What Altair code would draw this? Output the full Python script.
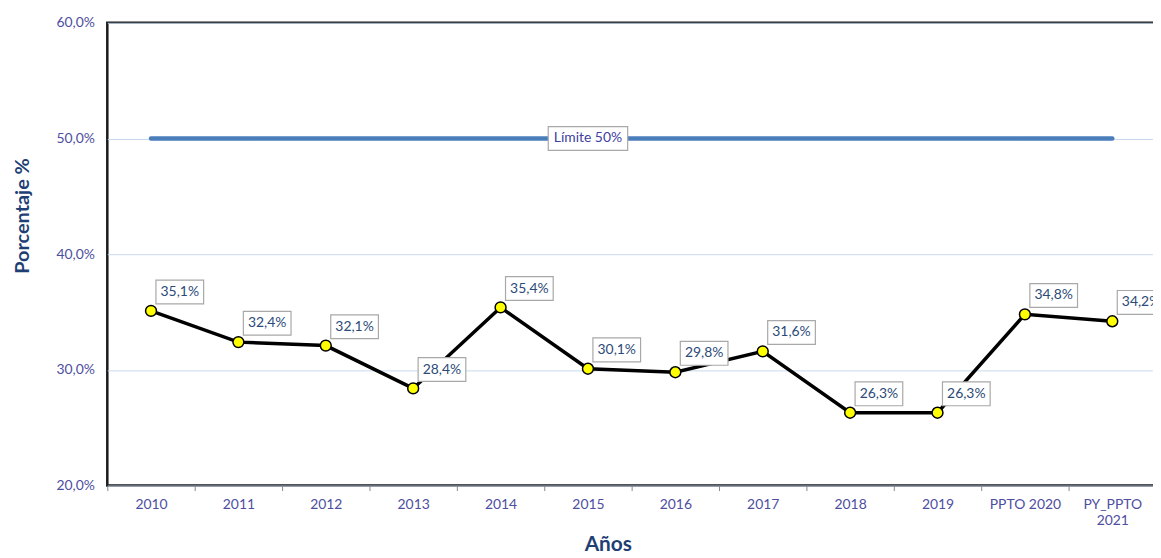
import altair as alt
import pandas as pd

categories = ["2010", "2011", "2012", "2013", "2014", "2015", "2016", "2017",
              "2018", "2019", "PPTO 2020", "PY_PPTO 2021"]
values = [35.1, 32.4, 32.1, 28.4, 35.4, 30.1, 29.8, 31.6, 26.3, 26.3, 34.8, 34.2]
labels = ["35,1%", "32,4%", "32,1%", "28,4%", "35,4%", "30,1%", "29,8%", "31,6%",
          "26,3%", "26,3%", "34,8%", "34,2%"]
limit_value = 50
limit_label = "Límite 50%"
limit_label_at = "2015"
y_ticks = [20, 30, 40, 50, 60]

FONT = "Lato"
df = pd.DataFrame({"cat": categories, "val": values, "lab": labels})
df_limit = pd.DataFrame({"cat": [categories[0], categories[-1]], "val": [limit_value] * 2})
df_limit_lab = pd.DataFrame({"cat": [limit_label_at], "val": [limit_value], "lab": [limit_label]})

x_enc = alt.X("cat:N", sort=categories,
              scale=alt.Scale(paddingInner=0, paddingOuter=0),
              axis=alt.Axis(title="Años", titleFont=FONT, titleFontSize=21, titleFontWeight="bold",
                            titleColor="#1F3F74", titleX=504, titleY=59, titleBaseline="middle",
                            titleAnchor="start", titleAlign="center",
                            labelFont=FONT, labelFontSize=14, labelColor="#4E4EA0",
                            labelPadding=7, labelAngle=0, labelLineHeight=16,
                            labelExpr="datum.value == 'PY_PPTO 2021' ? ['PY_PPTO', '2021'] : datum.label",
                            tickBand="extent", tickSize=5, tickColor="#888888", tickWidth=1,
                            domain=False, grid=False))
y_enc = alt.Y("val:Q", scale=alt.Scale(domain=[20, 60], nice=False, zero=False),
              axis=alt.Axis(title="Porcentaje %", titleFont=FONT, titleFontSize=20, titleFontWeight="bold",
                            titleColor="#1F3F74", titleX=-85, titleY=194, titleBaseline="middle",
                            titleAngle=270,
                            values=y_ticks,
                            labelExpr="replace(format(datum.value, '.1f'), '.', ',') + '%'",
                            labelFont=FONT, labelFontSize=14, labelColor="#4E4EA0", labelPadding=13,
                            ticks=False, domain=False, grid=True, gridColor="#C9DAEE", gridWidth=1))

base = alt.Chart(df)

limit_line = alt.Chart(df_limit).mark_line(color="#4A7EBB", strokeWidth=4.5, strokeCap="round").encode(
    x=x_enc, y=y_enc)

main_line = base.mark_line(color="#000000", strokeWidth=3.5).encode(x=x_enc, y=y_enc)

points = base.mark_point(filled=True, fill="#FFFF00", stroke="#000000", strokeWidth=1.5,
                         size=120, opacity=1).encode(x=x_enc, y=y_enc)

DX, DY = 29, -19
boxes = base.mark_point(shape="M-1,-0.5H1V0.5H-1Z", size=2304, filled=False, fill="#FFFFFF",
                        fillOpacity=1, stroke="#A8A8A8", strokeWidth=1.2, opacity=1,
                        xOffset=DX, yOffset=DY).encode(x=x_enc, y=y_enc)
texts = base.mark_text(font=FONT, fontSize=14, color="#2C4A78", dx=DX, dy=DY,
                       align="center", baseline="middle").encode(x=x_enc, y=y_enc, text="lab:N")

lim_box = alt.Chart(df_limit_lab).mark_point(shape="M-1,-0.3H1V0.3H-1Z", size=6400, filled=False,
                                             fill="#FFFFFF", fillOpacity=1, stroke="#A8A8A8",
                                             strokeWidth=1.2, opacity=1).encode(x=x_enc, y=y_enc)
lim_text = alt.Chart(df_limit_lab).mark_text(font=FONT, fontSize=14, color="#4040A0",
                                             align="center", baseline="middle").encode(
    x=x_enc, y=y_enc, text="lab:N")

chart = alt.layer(limit_line, main_line, points, boxes, texts, lim_box, lim_text).properties(
    width=1056, height=466,
    autosize=alt.AutoSizeParams(type="none"),
    padding={"left": 100, "top": 13, "right": -3, "bottom": 70},
    background="#FFFFFF",
).configure_view(stroke="#1A1A1A", strokeWidth=2.5)

chart.save("out.html", embed_options={"renderer": "svg", "actions": False})
